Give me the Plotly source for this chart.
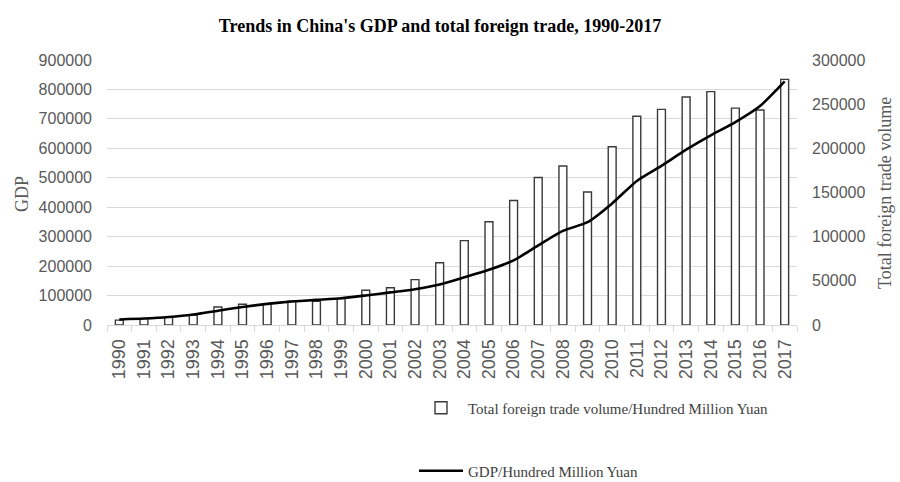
import plotly.graph_objects as go

years = [str(y) for y in range(1990, 2018)]
trade = [5560, 7225, 9120, 11271, 20382, 23500, 24134, 26967, 26849, 29896,
         39273, 42184, 51378, 70484, 95539, 116922, 140974, 166924, 179922, 150648,
         201722, 236402, 244160, 258169, 264242, 245503, 243386, 278101]
gdp = [18873, 22006, 27195, 35673, 48638, 61340, 71814, 79715, 85196, 90564,
       100280, 110863, 121717, 137422, 161840, 187319, 219439, 270232, 319516, 349081,
       413030, 489301, 540367, 595244, 643974, 689052, 743586, 827122]

gdp_ticks = list(range(0, 900001, 100000))
trade_ticks = list(range(0, 300001, 50000))

serif = "Liberation Serif"
sans = "Liberation Sans"
gray = "#595959"

fig = go.Figure()
fig.add_trace(go.Bar(
    x=years, y=trade, name="Total foreign trade volume/Hundred Million Yuan",
    yaxis="y", width=0.32,
    marker=dict(color="white", line=dict(color="#3a3a3a", width=1.4)),
    legend="legend",
))
fig.add_trace(go.Scatter(
    x=years, y=gdp, name="GDP/Hundred Million Yuan", yaxis="y2",
    mode="lines", line=dict(color="black", width=2.6, shape="spline", smoothing=0.6),
    legend="legend2",
))

W, H = 900, 482
L, R, T, B = 107, 103, 60, 157

def cx(x):
    return x / W

def cy(y):
    return 1 - y / H

fig.update_layout(
    width=W, height=H,
    margin=dict(l=L, r=R, t=T, b=B, autoexpand=False),
    paper_bgcolor="white", plot_bgcolor="white",
    title=dict(text="<b>Trends in China's GDP and total foreign trade, 1990-2017</b>",
               x=0.489, xanchor="center", y=1 - 26 / H, yanchor="middle",
               font=dict(family=serif, size=18, color="black")),
    xaxis=dict(type="category", categoryorder="array", categoryarray=years,
               tickangle=-90, tickfont=dict(family=sans, size=18, color=gray),
               showline=True, linecolor="#d9d9d9", linewidth=1,
               ticks="outside", tickson="boundaries", ticklen=6, tickcolor="#d9d9d9",
               ticklabelstandoff=6,
               showgrid=False, range=[-0.5, 27.5]),
    yaxis=dict(side="right", range=[0, 300000], tickvals=trade_ticks,
               ticktext=[str(v) for v in trade_ticks],
               tickfont=dict(family=sans, size=16, color=gray),
               showgrid=False, zeroline=False, ticklabelstandoff=14),
    yaxis2=dict(side="left", overlaying="y", range=[0, 900000], tickvals=gdp_ticks,
                ticktext=[str(v) for v in gdp_ticks],
                tickfont=dict(family=sans, size=16, color=gray),
                showgrid=True, gridcolor="#d9d9d9", gridwidth=1, zeroline=False,
                ticklabelstandoff=14),
    annotations=[
        dict(text="GDP", xref="paper", yref="paper", x=(22 - L) / (W - L - R),
             y=(H - B - 194) / (H - T - B), textangle=-90, showarrow=False,
             xanchor="center", yanchor="middle",
             font=dict(family=serif, size=18, color=gray)),
        dict(text="Total foreign trade volume", xref="paper", yref="paper",
             x=(885 - L) / (W - L - R), y=(H - B - 193) / (H - T - B),
             textangle=-90, showarrow=False, xanchor="center", yanchor="middle",
             font=dict(family=serif, size=18, color=gray)),
    ],
    legend=dict(xref="container", yref="container", x=cx(414), y=cy(408),
                xanchor="left", yanchor="middle",
                font=dict(family=serif, size=15, color="#404040"),
                itemwidth=44, bgcolor="rgba(0,0,0,0)"),
    legend2=dict(xref="container", yref="container", x=cx(414), y=cy(471),
                 xanchor="left", yanchor="middle",
                 font=dict(family=serif, size=15, color="#404040"),
                 itemwidth=44, bgcolor="rgba(0,0,0,0)"),
    showlegend=True,
)

fig.write_html("out.html")
